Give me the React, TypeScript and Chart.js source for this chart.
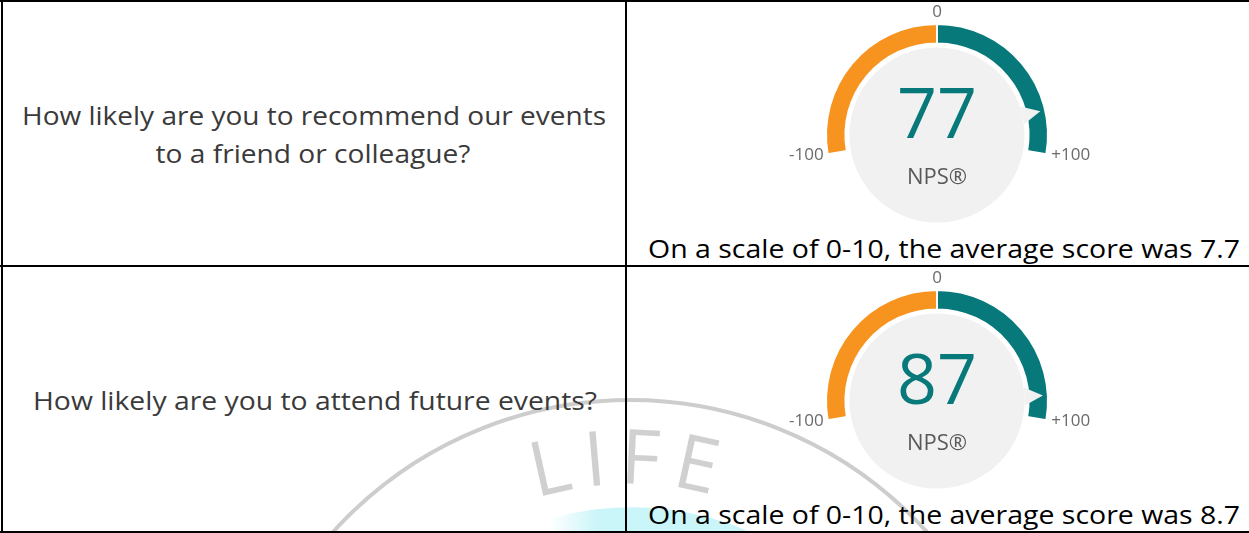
import React, { useEffect, useRef } from "react";
import { Chart, registerables } from "chart.js";

Chart.register(...registerables);

// ---- data ----
const QUESTION_LINES: string[][] = [
  ["How likely are you to recommend our events", "to a friend or colleague?"],
  ["How likely are you to attend future events?"],
];
const NPS_SCORES = [77, 87];
const AVERAGE_SCORES = [7.7, 8.7];
const SCALE_MIN = -100;
const SCALE_MAX = 100;
const SCALE_LABELS = ["-100", "0", "+100"];
const SEGMENT_LABELS = ["Below zero", "Above zero"];
const SEGMENT_SPANS = [100, 100];
const SEGMENT_COLORS = ["#F7941F", "#08797B"];
const GAUGE_LABEL = "NPS®";

const DISK_COLOR = "#F1F1F1";
const GAUGE_FONT = '"Open Sans", "Noto Sans", sans-serif';
const TABLE_FONT = '"Open Sans", "Noto Sans", sans-serif';

function Gauge({ index, left, top }: { index: number; left: number; top: number }) {
  const ref = useRef<HTMLCanvasElement>(null);
  useEffect(() => {
    const score = NPS_SCORES[index];
    const plugin = {
      id: "npsGauge",
      beforeDatasetsDraw(chart: any) {
        const meta = chart.getDatasetMeta(0);
        const p = meta.data[0].getProps(["x", "y", "innerRadius"], true);
        const ctx = chart.ctx;
        ctx.save();
        ctx.fillStyle = DISK_COLOR;
        ctx.beginPath();
        ctx.arc(p.x, p.y, p.innerRadius - 4, 0, Math.PI * 2);
        ctx.fill();
        ctx.restore();
      },
      afterDatasetsDraw(chart: any) {
        const meta = chart.getDatasetMeta(0);
        const arcs = meta.data;
        const p = arcs[0].getProps(["x", "y", "innerRadius", "outerRadius", "startAngle"], true);
        const endAngle = arcs[arcs.length - 1].getProps(["endAngle"], true).endAngle;
        const angleOf = (v: number) =>
          p.startAngle + ((v - SCALE_MIN) / (SCALE_MAX - SCALE_MIN)) * (endAngle - p.startAngle);
        const ctx = chart.ctx;
        ctx.save();
        // pointer
        const a = angleOf(score);
        const c = Math.cos(a);
        const s = Math.sin(a);
        const rTip = p.outerRadius - 5;
        const rBase = p.innerRadius - 4;
        const hw = 9;
        ctx.fillStyle = DISK_COLOR;
        ctx.beginPath();
        ctx.moveTo(p.x + c * rTip, p.y + s * rTip);
        ctx.lineTo(p.x + c * rBase - s * hw, p.y + s * rBase + c * hw);
        ctx.lineTo(p.x + c * rBase + s * hw, p.y + s * rBase - c * hw);
        ctx.closePath();
        ctx.fill();

        // value
        ctx.textBaseline = "alphabetic";
        ctx.textAlign = "center";
        ctx.fillStyle = SEGMENT_COLORS[1];
        ctx.font = `70px ${GAUGE_FONT}`;
        ctx.fillText(String(score), p.x, p.y + 3);
        ctx.fillStyle = "#5A5A5A";
        ctx.font = `22px ${GAUGE_FONT}`;
        ctx.fillText(GAUGE_LABEL, p.x, p.y + 49);

        // scale labels
        ctx.fillStyle = "#6A6A6A";
        ctx.font = `17px ${GAUGE_FONT}`;
        const a0 = angleOf(SCALE_MIN);
        const aMid = angleOf((SCALE_MIN + SCALE_MAX) / 2);
        const a1 = angleOf(SCALE_MAX);
        ctx.textAlign = "right";
        ctx.fillText(SCALE_LABELS[0], p.x + Math.cos(a0) * p.outerRadius - 4, p.y + Math.sin(a0) * p.outerRadius + 6);
        ctx.textAlign = "center";
        ctx.fillText(SCALE_LABELS[1], p.x + Math.cos(aMid) * (p.outerRadius + 7), p.y + Math.sin(aMid) * (p.outerRadius + 7));
        ctx.textAlign = "left";
        ctx.fillText(SCALE_LABELS[2], p.x + Math.cos(a1) * p.outerRadius + 5, p.y + Math.sin(a1) * p.outerRadius + 6);
        ctx.restore();
      },
    };
    const chart = new Chart(ref.current as HTMLCanvasElement, {
      type: "doughnut",
      data: {
        labels: SEGMENT_LABELS,
        datasets: [
          {
            data: SEGMENT_SPANS,
            backgroundColor: SEGMENT_COLORS,
            borderColor: "#ffffff",
            borderWidth: 2,
          },
        ],
      },
      options: {
        animation: false,
        responsive: false,
        events: [],
        rotation: -100,
        circumference: 200,
        cutout: "82.5%",
        radius: 111,
        layout: { padding: { left: 0, right: 3, top: 0, bottom: 88.7 } },
        plugins: { legend: { display: false }, tooltip: { enabled: false } },
      } as any,
      plugins: [plugin],
    });
    return () => chart.destroy();
  }, [index]);
  return (
    <canvas
      ref={ref}
      width={621}
      height={263}
      style={{ position: "absolute", left, top, width: 621, height: 263, display: "block" }}
    />
  );
}

export default function App() {
  const rowTops = [2, 268];
  return (
    <div style={{ position: "fixed", left: 0, top: 0, width: 1249, height: 533, background: "#fff", overflow: "hidden" }}>
      <svg width={1249} height={533} style={{ position: "absolute", left: 0, top: 0 }}>
        <defs>
          <linearGradient id="cyanFade" x1="550" y1="0" x2="790" y2="0" gradientUnits="userSpaceOnUse">
            <stop offset="0" stopColor="#c4f4f8" stopOpacity="0" />
            <stop offset="0.2" stopColor="#c4f4f8" stopOpacity="0.9" />
            <stop offset="0.8" stopColor="#c4f4f8" stopOpacity="0.9" />
            <stop offset="1" stopColor="#c4f4f8" stopOpacity="0" />
          </linearGradient>
          <path id="wmArc" d="M 426.9 557.9 A 316 316 0 0 1 833.1 557.9" fill="none" />
        </defs>
        {/* faint watermark */}
        <circle cx={630} cy={800} r={400} fill="none" stroke="#cdcdcd" strokeWidth={4} />
        <path d="M 533.5 536.9 A 282 282 0 0 1 791.7 568.9" fill="none" stroke="url(#cyanFade)" strokeWidth={24} />
        <text fontFamily={GAUGE_FONT} fontWeight={400} fontSize={76} fill="#d0d0d0" letterSpacing={12}>
          <textPath href="#wmArc" startOffset="50%" textAnchor="middle">LIFE</textPath>
        </text>

        {/* table rules */}
        <rect x={0} y={0} width={1249} height={2} fill="#000" />
        <rect x={1} y={0} width={2} height={533} fill="#000" />
        <rect x={625} y={0} width={2} height={533} fill="#000" />
        <rect x={0} y={265} width={1249} height={2} fill="#000" />
        <rect x={0} y={531} width={1249} height={2} fill="#000" />

        {/* questions */}
        <text x={314} y={125} textAnchor="middle" fontFamily={TABLE_FONT} fontSize={26} fill="#3A3A3A" textLength={584} lengthAdjust="spacingAndGlyphs">
          {QUESTION_LINES[0][0]}
        </text>
        <text x={313} y={163} textAnchor="middle" fontFamily={TABLE_FONT} fontSize={26} fill="#3A3A3A" textLength={315} lengthAdjust="spacingAndGlyphs">
          {QUESTION_LINES[0][1]}
        </text>
        <text x={315} y={410} textAnchor="middle" fontFamily={TABLE_FONT} fontSize={26} fill="#3A3A3A" textLength={564} lengthAdjust="spacingAndGlyphs">
          {QUESTION_LINES[1][0]}
        </text>

        {/* averages */}
        {AVERAGE_SCORES.map((v, i) => (
          <text key={i} x={944} y={[258, 524][i]} textAnchor="middle" fontFamily={TABLE_FONT} fontSize={26} fill="#000" textLength={592} lengthAdjust="spacingAndGlyphs">
            {`On a scale of 0-10, the average score was ${v.toFixed(1)}`}
          </text>
        ))}
      </svg>
      {NPS_SCORES.map((_, i) => (
        <Gauge key={i} index={i} left={628} top={rowTops[i]} />
      ))}
    </div>
  );
}
